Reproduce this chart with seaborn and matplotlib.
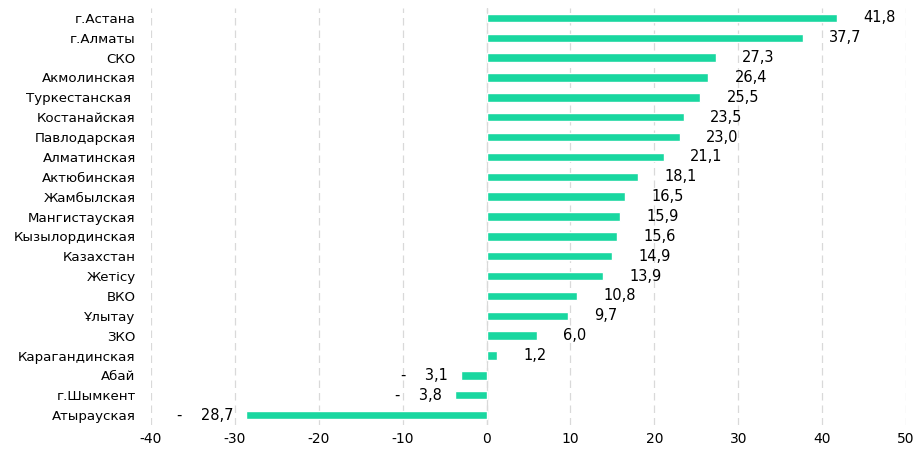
import seaborn as sns
import matplotlib.pyplot as plt
import pandas as pd

regions = ['г.Астана', 'г.Алматы', 'СКО', 'Акмолинская', 'Туркестанская ',
           'Костанайская', 'Павлодарская', 'Алматинская', 'Актюбинская',
           'Жамбылская', 'Мангистауская', 'Кызылординская', 'Казахстан',
           'Жетісу', 'ВКО', 'Ұлытау', 'ЗКО', 'Карагандинская', 'Абай',
           'г.Шымкент', 'Атырауская']
values = [41.8, 37.7, 27.3, 26.4, 25.5, 23.5, 23.0, 21.1, 18.1, 16.5, 15.9,
          15.6, 14.9, 13.9, 10.8, 9.7, 6.0, 1.2, -3.1, -3.8, -28.7]
xticks = [-40, -30, -20, -10, 0, 10, 20, 30, 40, 50]

df = pd.DataFrame({'region': regions, 'value': values})

sns.set_style('white')
plt.rcParams['font.family'] = ['DejaVu Sans']

fig = plt.figure(figsize=(9.23, 4.58), dpi=100)
ax = fig.add_axes([151 / 923, 33 / 458, 755 / 923, 417 / 458])

sns.barplot(data=df, x='value', y='region', orient='h', color='#19d7a0',
            saturation=1, width=0.42, ax=ax, zorder=3)

ax.set_xlim(-40, 50)
ax.set_xticks(xticks)
ax.set_xticklabels([str(t) for t in xticks])
ax.set_xlabel('')
ax.set_ylabel('')
ax.grid(axis='x', color='#d9d9d9', linestyle=(0, (6, 4)), linewidth=0.9, zorder=0)
ax.axvline(0, color='#d9d9d9', linewidth=0.9, zorder=1)
for s in ax.spines.values():
    s.set_visible(False)
ax.tick_params(axis='both', length=0, colors='black')
ax.tick_params(axis='y', pad=11, labelsize=9.6)
ax.tick_params(axis='x', pad=5, labelsize=10)

for i, v in enumerate(values):
    txt = f'{abs(v):.1f}'.replace('.', ',')
    if v >= 0:
        ax.annotate(txt, (v, i), xytext=(19, 0), textcoords='offset points',
                    ha='left', va='center', fontsize=10.5, family='DejaVu Sans',
                    color='black')
    else:
        ax.annotate('-    ' + txt, (v, i), xytext=(-9, 0), textcoords='offset points',
                    ha='right', va='center', fontsize=10.5, family='DejaVu Sans',
                    color='black')

fig.savefig('out.png', dpi=100)
